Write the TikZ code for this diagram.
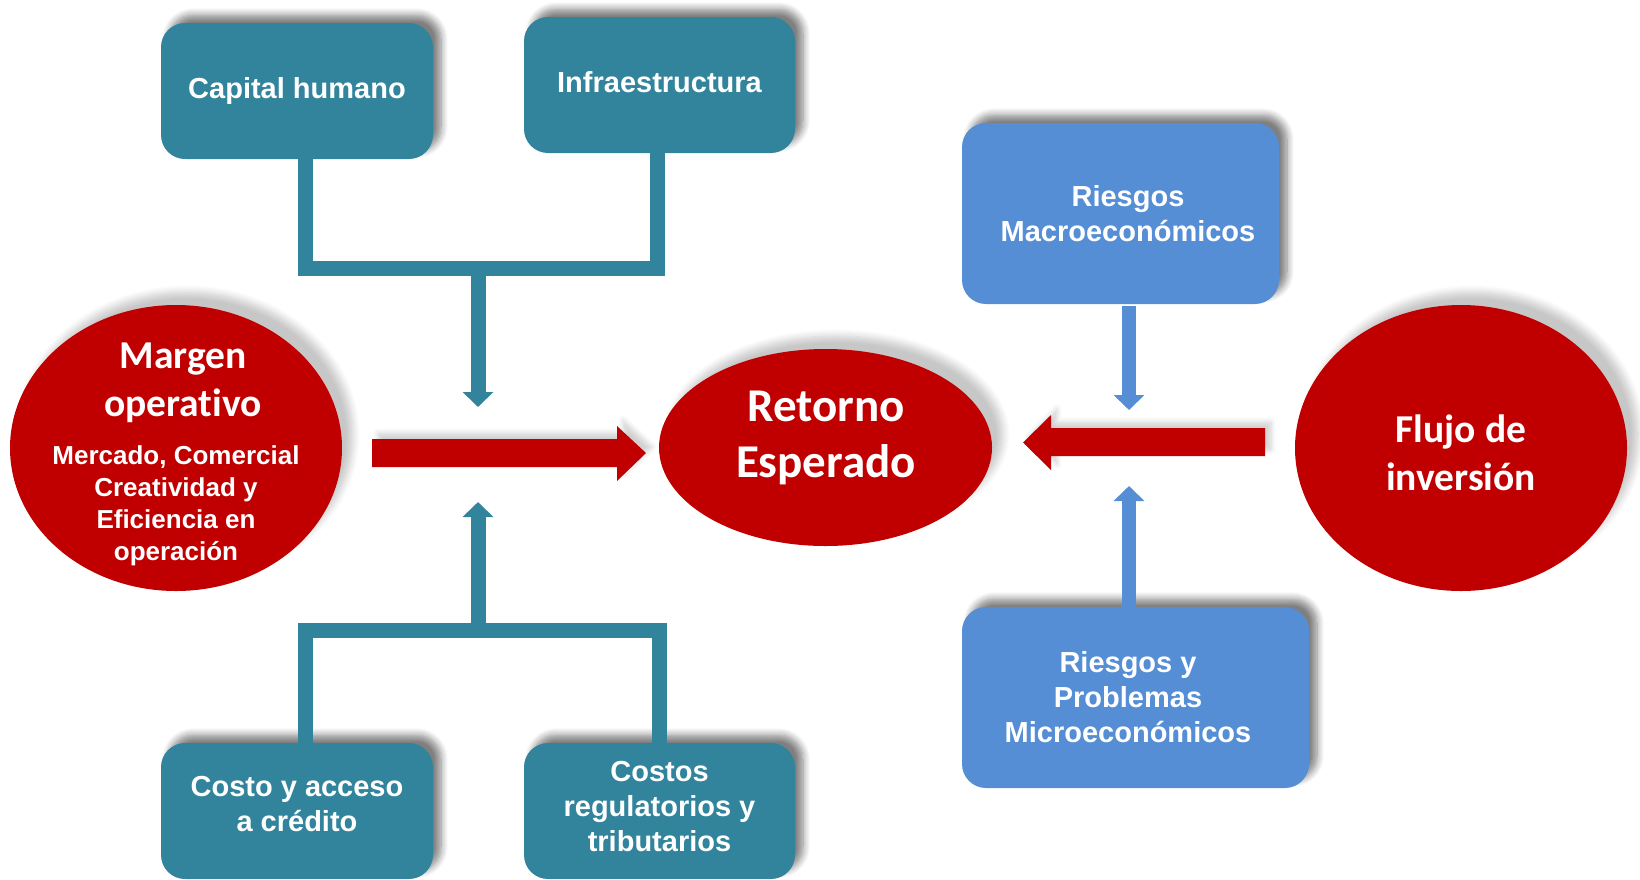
\documentclass[tikz,border=0pt]{standalone}
\usepackage{fontspec}
\setmainfont{Liberation Sans}
\newfontfamily\calibri[Ligatures=NoCommon]{Carlito}
\usetikzlibrary{arrows.meta,shapes.geometric,shadows.blur}
\definecolor{tealbox}{RGB}{49,132,155}
\definecolor{bluebox}{RGB}{85,142,213}
\definecolor{redell}{RGB}{192,0,0}
\begin{document}
\begin{tikzpicture}[x=1pt,y=-1pt,
  boxshadow/.style={blur shadow={shadow xshift=8pt,shadow yshift=8pt,shadow blur radius=7pt,shadow blur steps=8,shadow opacity=50}},
  ellshadow/.style={blur shadow={shadow xshift=11pt,shadow yshift=13pt,shadow blur radius=7pt,shadow blur steps=8,shadow opacity=22}},
  tbox/.style={rectangle,rounded corners=24pt,fill=tealbox,inner sep=0pt,boxshadow},
  bbox/.style={tbox,fill=bluebox},
  boxtxt/.style={text=white,inner sep=0pt,align=center,font=\bfseries\fontsize{29}{35}\selectfont},
  ell/.style={ellipse,fill=redell,inner sep=0pt,ellshadow},
  bigtxt/.style={text=white,align=center,inner sep=0pt,font=\calibri\bfseries\fontsize{39.5}{48}\selectfont},
  hugetxt/.style={text=white,align=center,inner sep=0pt,font=\calibri\bfseries\fontsize{47}{56}\selectfont},
  smalltxt/.style={text=white,align=center,inner sep=0pt,font=\bfseries\fontsize{26}{32}\selectfont},
  tealline/.style={draw=tealbox,line width=15pt,line join=miter},
  tealarrow/.style={draw=tealbox,line width=15pt,-{Triangle[width=30pt,length=15pt]}},
  bluearrow/.style={draw=bluebox,line width=14pt,-{Triangle[width=30pt,length=15pt]}},
  redarrow/.style={fill=redell,blur shadow={shadow xshift=6pt,shadow yshift=6pt,shadow blur radius=5pt,shadow blur steps=6,shadow opacity=18}}
]
\useasboundingbox (0,0) rectangle (1640,879);

% junction coordinates
\coordinate (jtop) at (478,268);
\coordinate (jtopend) at (478,407);
\coordinate (jbot) at (478,630);
\coordinate (jbotend) at (478,502);
\coordinate (bdn) at (1129,410);
\coordinate (bup) at (1129,486);
\coordinate (ra) at (372,453);
\coordinate (la) at (1265,442);

% boxes
\node[tbox,minimum width=272pt,minimum height=136pt] (ch) at (297,91) {};
\node[tbox,minimum width=271pt,minimum height=136pt] (inf) at (659.5,85) {};
\node[tbox,minimum width=272pt,minimum height=136pt] (cst) at (297,811) {};
\node[tbox,minimum width=271pt,minimum height=136pt] (reg) at (659.5,811) {};
\node[bbox,minimum width=317pt,minimum height=181pt] (macro) at (1120.5,213.5) {};
\node[bbox,minimum width=347pt,minimum height=181pt] (micro) at (1135.5,697.5) {};

\node[boxtxt] (cht) at (ch.center) {Capital humano};
\node[boxtxt] (inft) at ([yshift=3pt]inf.center) {Infraestructura};
\node[boxtxt] (cstt) at ([yshift=7pt]cst.center) {Costo y acceso\\a crédito};
\node[boxtxt] (regt) at ([yshift=4.5pt]reg.center) {Costos\\regulatorios y\\tributarios};
\node[boxtxt] (macrot) at ([xshift=7.5pt]macro.center) {Riesgos\\Macroeconómicos};
\node[boxtxt] (microt) at ([xshift=-7.5pt]micro.center) {Riesgos y\\Problemas\\Microeconómicos};

% teal connectors
\draw[tealline] ([xshift=8pt,yshift=2pt]ch.south) |- (jtop) -| ([xshift=-2.5pt,yshift=2pt]inf.south);
\draw[tealarrow] (jtop) -- (jtopend);
\draw[tealline] ([xshift=8pt,yshift=-2pt]cst.north) |- (jbot) -| ([xshift=-0.5pt,yshift=-2pt]reg.north);
\draw[tealarrow] (jbot) -- (jbotend);

% blue arrows
\draw[bluearrow] (macro.south -| bdn) ++(0,2) -- (bdn);
\draw[bluearrow] (micro.north -| bup) -- (bup);

% ellipses
\node[ell,minimum width=332pt,minimum height=286pt] (margen) at (176,448) {};
\node[ell,minimum width=333pt,minimum height=197pt] (retorno) at (825.5,447.5) {};
\node[ell,minimum width=332pt,minimum height=286pt] (flujo) at (1461,448) {};

\node[bigtxt] (margent) at (183,383) {Margen\\operativo};
\node[smalltxt] (margens) at (176,506) {Mercado, Comercial\\Creatividad y\\Eficiencia en\\operación};
\node[hugetxt] (retornot) at (826,438) {Retorno\\Esperado};
\node[bigtxt] (flujot) at (1461,453) {Flujo de\\inversión};

% red block arrows
\fill[redarrow] (ra) ++(0,-14) -- ++(245,0) -- ++(0,-13) -- ++(29,27) -- ++(-29,28) -- ++(0,-14) -- ++(-245,0) -- cycle;
\fill[redarrow] (la) ++(0,-14) -- ++(-214,0) -- ++(0,-13) -- ++(-28,27.5) -- ++(28,27.5) -- ++(0,-14) -- ++(214,0) -- cycle;
\end{tikzpicture}
\end{document}
